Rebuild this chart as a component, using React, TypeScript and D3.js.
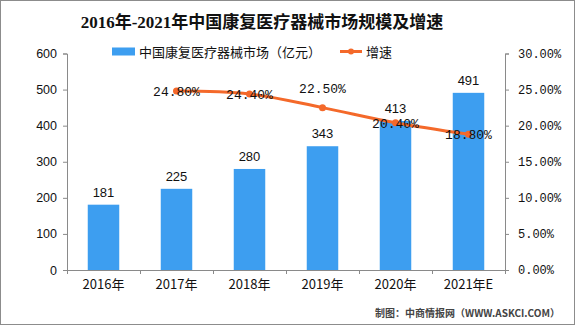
import React, { useEffect, useRef } from 'react';
import * as d3 from 'd3';

const years = ['2016年', '2017年', '2018年', '2019年', '2020年', '2021年E'];
const marketSize = [181, 225, 280, 343, 413, 491];
const growthYears = ['2017年', '2018年', '2019年', '2020年', '2021年E'];
const growthRate = [24.8, 24.4, 22.5, 20.4, 18.8];
const leftTicks = [0, 100, 200, 300, 400, 500, 600];
const rightTicks = [0, 5, 10, 15, 20, 25, 30];

const W = 575;
const H = 326;
const BLUE = '#3d9ef0';
const ORANGE = '#f4692a';
const CJK = '"Noto Sans CJK SC", sans-serif';

const App = () => {
  const svgRef = useRef<SVGSVGElement>(null);

  useEffect(() => {
    const svg = d3.select(svgRef.current);
    svg.selectAll('*').remove();

    const left = 67;
    const right = 505;
    const top = 53.5;
    const bottom = 270;

    const x = d3.scaleBand().domain(years).range([left, right]).paddingInner(0).paddingOuter(0);
    const yL = d3.scaleLinear().domain([0, 600]).range([bottom, top]);
    const yR = d3.scaleLinear().domain([0, 30]).range([bottom, top]);
    const barW = 31.5;

    svg.append('rect').attr('x', 0.5).attr('y', 0.5).attr('width', W - 1).attr('height', H - 2)
      .attr('fill', '#fff').attr('stroke', '#8c8c8c');

    // title
    svg.append('text').attr('x', 262).attr('y', 28).attr('text-anchor', 'middle')
      .attr('font-family', '"Liberation Serif", "Noto Sans CJK SC", serif').attr('font-weight', 'bold')
      .attr('font-size', 17).attr('fill', '#111')
      .text('2016年-2021年中国康复医疗器械市场规模及增速');

    // legend
    const lg = svg.append('g').attr('font-family', CJK).attr('font-size', 13).attr('fill', '#111');
    lg.append('rect').attr('x', 112).attr('y', 47.5).attr('width', 23).attr('height', 8).attr('fill', BLUE);
    lg.append('text').attr('x', 139).attr('y', 57).text('中国康复医疗器械市场（亿元）');
    lg.append('line').attr('x1', 340).attr('x2', 362).attr('y1', 51.5).attr('y2', 51.5)
      .attr('stroke', ORANGE).attr('stroke-width', 3);
    lg.append('circle').attr('cx', 351).attr('cy', 51.5).attr('r', 3).attr('fill', ORANGE);
    lg.append('text').attr('x', 366).attr('y', 57).text('增速');

    const axisColor = '#8a8a8a';

    // left axis
    const gl = svg.append('g').attr('transform', `translate(${left},0)`)
      .call(d3.axisLeft(yL).tickValues(leftTicks).tickSize(4).tickPadding(6));
    gl.selectAll('path, line').attr('stroke', axisColor);
    gl.selectAll('text').attr('font-family', '"Liberation Sans", Arial, sans-serif').attr('font-size', 12.5).attr('fill', '#111');

    // right axis
    const gr = svg.append('g').attr('transform', `translate(${right},0)`)
      .call(d3.axisRight(yR).tickValues(rightTicks).tickSize(4).tickPadding(9)
        .tickFormat((d) => `${(+d).toFixed(2)}%`));
    gr.selectAll('path, line').attr('stroke', axisColor);
    gr.selectAll('text').attr('font-family', '"Liberation Mono", monospace').attr('font-size', 12).attr('fill', '#111');

    // bottom axis with ticks at band edges
    const gb = svg.append('g');
    gb.append('line').attr('x1', left).attr('x2', right).attr('y1', bottom + 0.5).attr('y2', bottom + 0.5)
      .attr('stroke', axisColor);
    const edges = years.map((y) => x(y) as number).concat([right]);
    gb.selectAll('line.tick').data(edges).join('line').attr('class', 'tick')
      .attr('x1', (d) => Math.round(d) + 0.5).attr('x2', (d) => Math.round(d) + 0.5)
      .attr('y1', bottom).attr('y2', bottom + 4).attr('stroke', axisColor);
    gb.selectAll('text').data(years).join('text')
      .attr('x', (d) => (x(d) as number) + x.bandwidth() / 2).attr('y', 289)
      .attr('text-anchor', 'middle').attr('font-family', CJK).attr('font-size', 13).attr('fill', '#111')
      .text((d) => d);

    // bars
    const cx = (d: string) => (x(d) as number) + x.bandwidth() / 2;
    svg.append('g').selectAll('rect').data(marketSize).join('rect')
      .attr('x', (_, i) => cx(years[i]) - barW / 2)
      .attr('y', (d) => yL(d)).attr('width', barW).attr('height', (d) => bottom - yL(d))
      .attr('fill', BLUE);
    svg.append('g').selectAll('text').data(marketSize).join('text')
      .attr('x', (_, i) => cx(years[i])).attr('y', (d) => yL(d) - 8)
      .attr('text-anchor', 'middle').attr('font-family', '"Liberation Sans", Arial, sans-serif')
      .attr('font-size', 13).attr('fill', '#111').text((d) => d);

    // growth line
    const pts = growthRate.map((v, i) => [cx(growthYears[i]), yR(v)] as [number, number]);
    svg.append('path').datum(pts).attr('fill', 'none').attr('stroke', ORANGE).attr('stroke-width', 3)
      .attr('d', d3.line().curve(d3.curveCatmullRom.alpha(0.5)));
    svg.append('g').selectAll('circle').data(pts).join('circle')
      .attr('cx', (d) => d[0]).attr('cy', (d) => d[1]).attr('r', 3.5).attr('fill', ORANGE);
    svg.append('g').selectAll('text').data(growthRate).join('text')
      .attr('x', (_, i) => pts[i][0]).attr('y', (d, i) => (i === 2 ? pts[i][1] - 15 : pts[i][1] + 5))
      .attr('text-anchor', 'middle').attr('font-family', '"Liberation Mono", monospace')
      .attr('font-size', 13).attr('fill', '#111').text((d) => `${d.toFixed(2)}%`);

    // source note
    svg.append('text').attr('x', 560).attr('y', 317).attr('text-anchor', 'end')
      .attr('font-family', CJK).attr('font-size', 10).attr('font-weight', 'bold').attr('fill', '#444')
      .text('制图：中商情报网（WWW.ASKCI.COM）');
  }, []);

  return (
    <svg ref={svgRef} width={W} height={H}
      style={{ position: 'absolute', left: 0, top: 0, display: 'block' }} />
  );
};

export default App;
